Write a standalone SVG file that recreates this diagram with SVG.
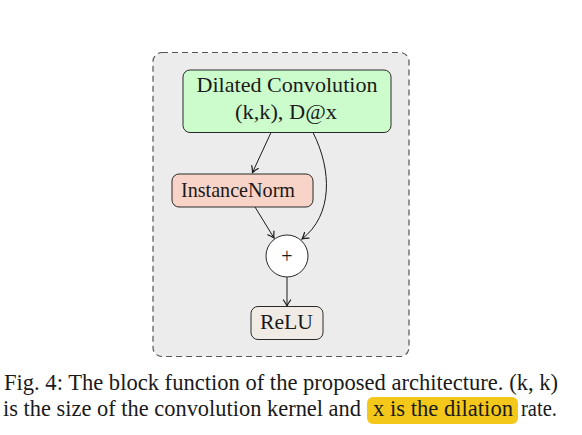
<svg xmlns="http://www.w3.org/2000/svg" width="582" height="435" viewBox="0 0 582 435">
<defs>
<marker id="arr" viewBox="-7 -5 9 10" refX="0" refY="0" markerWidth="9" markerHeight="10" markerUnits="userSpaceOnUse" orient="auto">
<path d="M-6,-3.6 Q-2,-0.8 0,0 Q-2,0.8 -6,3.6" fill="none" stroke="#1a1a1a" stroke-width="1.2" stroke-linecap="round"/>
</marker>
</defs>
<style>
.t{font-family:"Liberation Serif","Times New Roman",serif;fill:#1a1a1a}
.node{stroke:#2a2a2a;stroke-width:1}
.conn{fill:none;stroke:#1a1a1a;stroke-width:1;marker-end:url(#arr)}
</style>
<rect width="582" height="435" fill="#ffffff"/>
<g id="block">
<rect x="153" y="52.5" width="256" height="304" rx="9" fill="#ececec" stroke="#555555" stroke-width="1.2" stroke-dasharray="6,4"/>
</g>
<g id="connectors">
<path class="conn" d="M271,132.5 L252.5,172.5"/>
<path class="conn" d="M313,132.5 C332,170 333,215 302,239"/>
<path class="conn" d="M255,207 L274,238"/>
<path class="conn" d="M287,277 L287,306"/>
</g>
<g id="conv">
<rect class="node" x="183" y="70" width="208" height="62.5" rx="7" fill="#ccfccc"/>
<text class="t" x="287" y="92" font-size="22" text-anchor="middle" textLength="181" lengthAdjust="spacingAndGlyphs">Dilated Convolution</text>
<text class="t" x="286" y="119" font-size="22" text-anchor="middle" textLength="102" lengthAdjust="spacingAndGlyphs">(k,k), D@x</text>
</g>
<g id="norm">
<rect class="node" x="172" y="174" width="141" height="33" rx="7" fill="#f8d3c8"/>
<text class="t" x="238" y="197" font-size="22" text-anchor="middle" textLength="114" lengthAdjust="spacingAndGlyphs">InstanceNorm</text>
</g>
<g id="sum">
<circle class="node" cx="287" cy="256" r="21" fill="#ffffff"/>
<text class="t" x="287" y="263" font-size="20" text-anchor="middle">+</text>
</g>
<g id="relu">
<rect class="node" x="251" y="306.5" width="72" height="33" rx="7" fill="#f1ebe6"/>
<text class="t" x="286.5" y="329" font-size="22" text-anchor="middle" textLength="53" lengthAdjust="spacingAndGlyphs">ReLU</text>
</g>
<g id="caption">
<rect x="367" y="397" width="151" height="27" rx="6" fill="#f4c81a"/>
<text class="t" x="4" y="390" font-size="22.5" textLength="554" lengthAdjust="spacingAndGlyphs">Fig. 4: The block function of the proposed architecture. (k, k)</text>
<text class="t" x="3" y="416" font-size="22.5" textLength="358" lengthAdjust="spacingAndGlyphs">is the size of the convolution kernel and</text>
<text class="t" x="373" y="416" font-size="22.5" textLength="140" lengthAdjust="spacingAndGlyphs">x is the dilation</text>
<text class="t" x="521" y="416" font-size="22.5" textLength="36" lengthAdjust="spacingAndGlyphs">rate.</text>
</g>
</svg>
